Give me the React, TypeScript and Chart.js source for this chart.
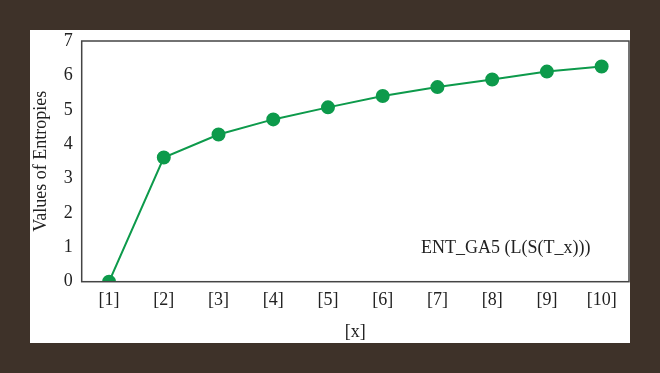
import React, { useEffect, useRef } from "react";
import { Chart, registerables } from "chart.js";

Chart.register(...registerables);

const categories = ["[1]", "[2]", "[3]", "[4]", "[5]", "[6]", "[7]", "[8]", "[9]", "[10]"];
const entropyValues = [0.0, 3.61, 4.28, 4.72, 5.07, 5.4, 5.66, 5.88, 6.11, 6.26];
const seriesLabel = "ENT_GA5 (L(S(T_x)))";
const yTitle = "Values of Entropies";
const xTitle = "[x]";

const BROWN = "#3e3229";
const GREEN = "#0d9a4b";
const FONT = "'Liberation Serif', 'DejaVu Serif', serif";

const framePlugin = {
  id: "frame",
  beforeDraw(chart: any) {
    const { ctx, width, height } = chart;
    ctx.save();
    ctx.fillStyle = BROWN;
    ctx.fillRect(0, 0, width, height);
    ctx.fillStyle = "#ffffff";
    ctx.fillRect(30, 30, 600, 313);
    ctx.restore();
  },
  afterDraw(chart: any) {
    const { ctx, chartArea } = chart;
    ctx.save();
    ctx.strokeStyle = "#444444";
    ctx.lineWidth = 1.5;
    ctx.strokeRect(chartArea.left, chartArea.top, chartArea.right - chartArea.left, chartArea.bottom - chartArea.top);
    ctx.fillStyle = "#222222";
    ctx.font = "18px " + FONT;
    ctx.textAlign = "left";
    ctx.textBaseline = "alphabetic";
    ctx.fillText(seriesLabel, 421, 253);
    ctx.restore();
  },
};

export default function App() {
  const ref = useRef<HTMLCanvasElement | null>(null);
  useEffect(() => {
    if (!ref.current) return;
    const chart = new Chart(ref.current, {
      type: "line",
      data: {
        labels: categories,
        datasets: [
          {
            label: seriesLabel,
            data: entropyValues,
            borderColor: GREEN,
            backgroundColor: GREEN,
            pointBackgroundColor: GREEN,
            pointBorderColor: GREEN,
            borderWidth: 2,
            pointRadius: 6,
            tension: 0,
            fill: false,
          },
        ],
      },
      options: {
        animation: false,
        responsive: false,
        maintainAspectRatio: false,
        layout: { padding: { left: 30, top: 41, right: 31, bottom: 30 } },
        plugins: { legend: { display: false }, tooltip: { enabled: false } },
        scales: {
          x: {
            offset: true,
            grid: { display: false, drawTicks: false },
            border: { display: false },
            ticks: { color: "#222", font: { family: FONT, size: 18 }, padding: 8 },
            title: { display: true, text: xTitle, color: "#222", font: { family: FONT, size: 18 }, padding: { top: 0, bottom: 0 } },
            afterFit: (s: any) => { s.height = 61.3; },
          },
          y: {
            min: 0,
            max: 7,
            ticks: { stepSize: 1, color: "#222", font: { family: FONT, size: 18 }, padding: 9 },
            grid: { display: false, drawTicks: false },
            border: { display: false },
            title: { display: true, text: yTitle, color: "#222", font: { family: FONT, size: 18 }, padding: { top: 0, bottom: 0 } },
            afterFit: (s: any) => { s.width = 51.7; },
          },
        },
      },
      plugins: [framePlugin],
    });
    return () => chart.destroy();
  }, []);
  return (
    <div style={{ position: "fixed", left: 0, top: 0, width: 660, height: 373, background: BROWN }}>
      <canvas ref={ref} width={660} height={373} style={{ display: "block" }} />
    </div>
  );
}
